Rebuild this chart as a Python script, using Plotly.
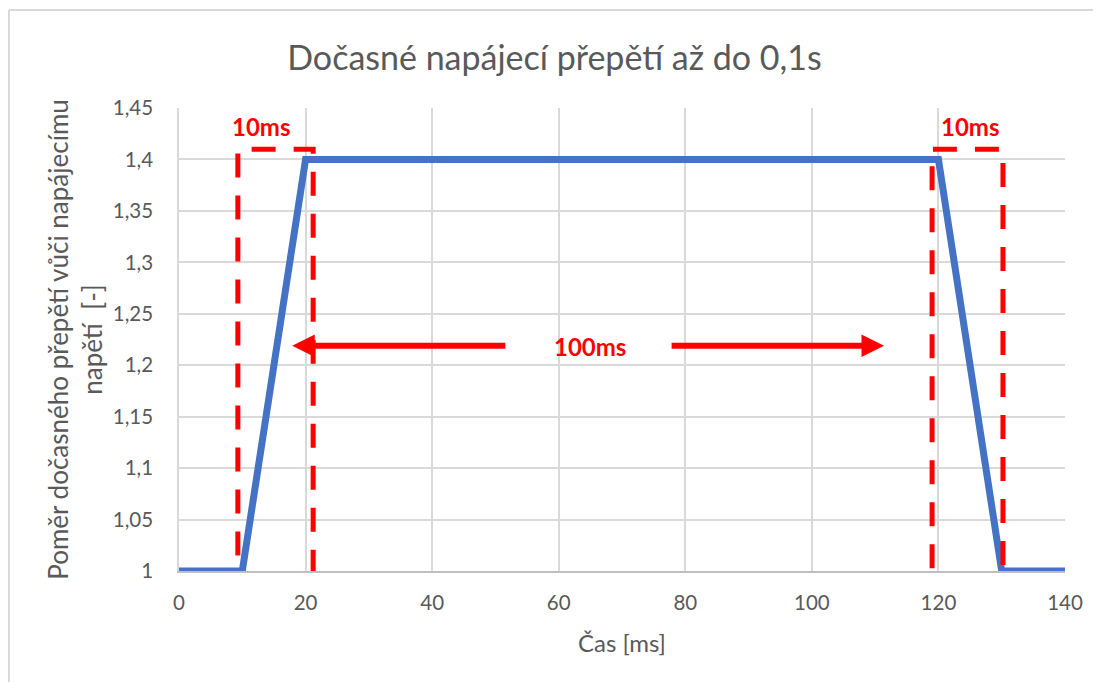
import plotly.graph_objects as go

# Data
time_ms = [0, 10, 20, 120, 130, 140]
ratio = [1.0, 1.0, 1.4, 1.4, 1.0, 1.0]
x_ticks = [0, 20, 40, 60, 80, 100, 120, 140]
y_ticks = [1.0, 1.05, 1.1, 1.15, 1.2, 1.25, 1.3, 1.35, 1.4, 1.45]
y_tick_labels = ["1", "1,05", "1,1", "1,15", "1,2", "1,25", "1,3", "1,35", "1,4", "1,45"]

# Annotation boxes (x0, x1, y0, y1) and labels
boxes = [(9.3, 21.2, 0.989, 1.410), (119.0, 130.2, 0.993, 1.410)]
box_labels = [(13.1, 1.4325, "10ms"), (125.0, 1.4325, "10ms")]
arrow_y = 1.219
arrows = [(51.8, 17.9), (77.6, 111.4)]  # (tail, tip)
mid_label = (64.9, 1.218, "100ms")

FONT = "Lato"
GRAY = "#595959"
RED = "#FF0000"

fig = go.Figure()
fig.add_trace(go.Scatter(x=time_ms, y=ratio, mode="lines",
                         line=dict(color="#4472C4", width=7),
                         hoverinfo="skip", showlegend=False))

shapes = []
for (x0, x1, y0, y1) in boxes:
    shapes.append(dict(type="rect", xref="x", yref="y", x0=x0, x1=x1, y0=y0, y1=y1,
                       line=dict(color=RED, width=5, dash="24px,18px"),
                       fillcolor="rgba(0,0,0,0)", layer="above"))
# outer frame (top and left edges visible)
shapes.append(dict(type="line", xref="paper", yref="paper",
                   x0=-0.1919, x1=1.05, y0=1.2117, y1=1.2117,
                   line=dict(color="#D9D9D9", width=2)))
shapes.append(dict(type="line", xref="paper", yref="paper",
                   x0=-0.1919, x1=-0.1919, y0=-0.25, y1=1.2117,
                   line=dict(color="#D9D9D9", width=2)))

annotations = []
for (x, y, t) in box_labels:
    annotations.append(dict(x=x, y=y, xref="x", yref="y", text="<b>%s</b>" % t,
                            showarrow=False, font=dict(family=FONT, size=24, color=RED)))
annotations.append(dict(x=mid_label[0], y=mid_label[1], xref="x", yref="y",
                        text="<b>%s</b>" % mid_label[2], showarrow=False,
                        font=dict(family=FONT, size=24, color=RED)))
for (tail, tip) in arrows:
    annotations.append(dict(x=tip, y=arrow_y, ax=tail, ay=arrow_y, xref="x", yref="y",
                            axref="x", ayref="y", text="", showarrow=True,
                            arrowhead=2, arrowsize=0.75, arrowwidth=6, arrowcolor=RED,
                            standoff=0, startstandoff=0))

fig.update_layout(
    width=1093, height=674,
    margin=dict(l=171, r=36, t=100, b=111),
    paper_bgcolor="white", plot_bgcolor="white",
    title=dict(text="Dočasné napájecí přepětí až do 0,1s", x=0.5, xanchor="center",
               y=0.925, yanchor="middle",
               font=dict(family=FONT, size=34, color=GRAY)),
    font=dict(family=FONT, color=GRAY),
    xaxis=dict(range=[0, 140], tickvals=x_ticks, ticktext=[str(v) for v in x_ticks],
               showgrid=True, gridcolor="#D9D9D9", gridwidth=1.5,
               showline=True, linecolor="#BFBFBF", linewidth=2,
               zeroline=False, ticks="", ticklen=0, ticklabelstandoff=12,
               tickfont=dict(family=FONT, size=20.5, color=GRAY),
               title=dict(text="Čas [ms]", font=dict(family=FONT, size=24, color=GRAY), standoff=23)),
    yaxis=dict(range=[1.0, 1.45], tickvals=y_ticks, ticktext=y_tick_labels,
               showgrid=True, gridcolor="#D9D9D9", gridwidth=1.5,
               showline=True, linecolor="#D9D9D9", linewidth=1.5,
               zeroline=False, ticks="", ticklen=0, ticklabelstandoff=20,
               tickfont=dict(family=FONT, size=20.5, color=GRAY),
               title=dict(text="Poměr dočasného přepětí vůči napájecímu<br>napětí  [-]",
                          font=dict(family=FONT, size=26, color=GRAY), standoff=3)),
    shapes=shapes, annotations=annotations,
)

fig.write_html("out.html")
